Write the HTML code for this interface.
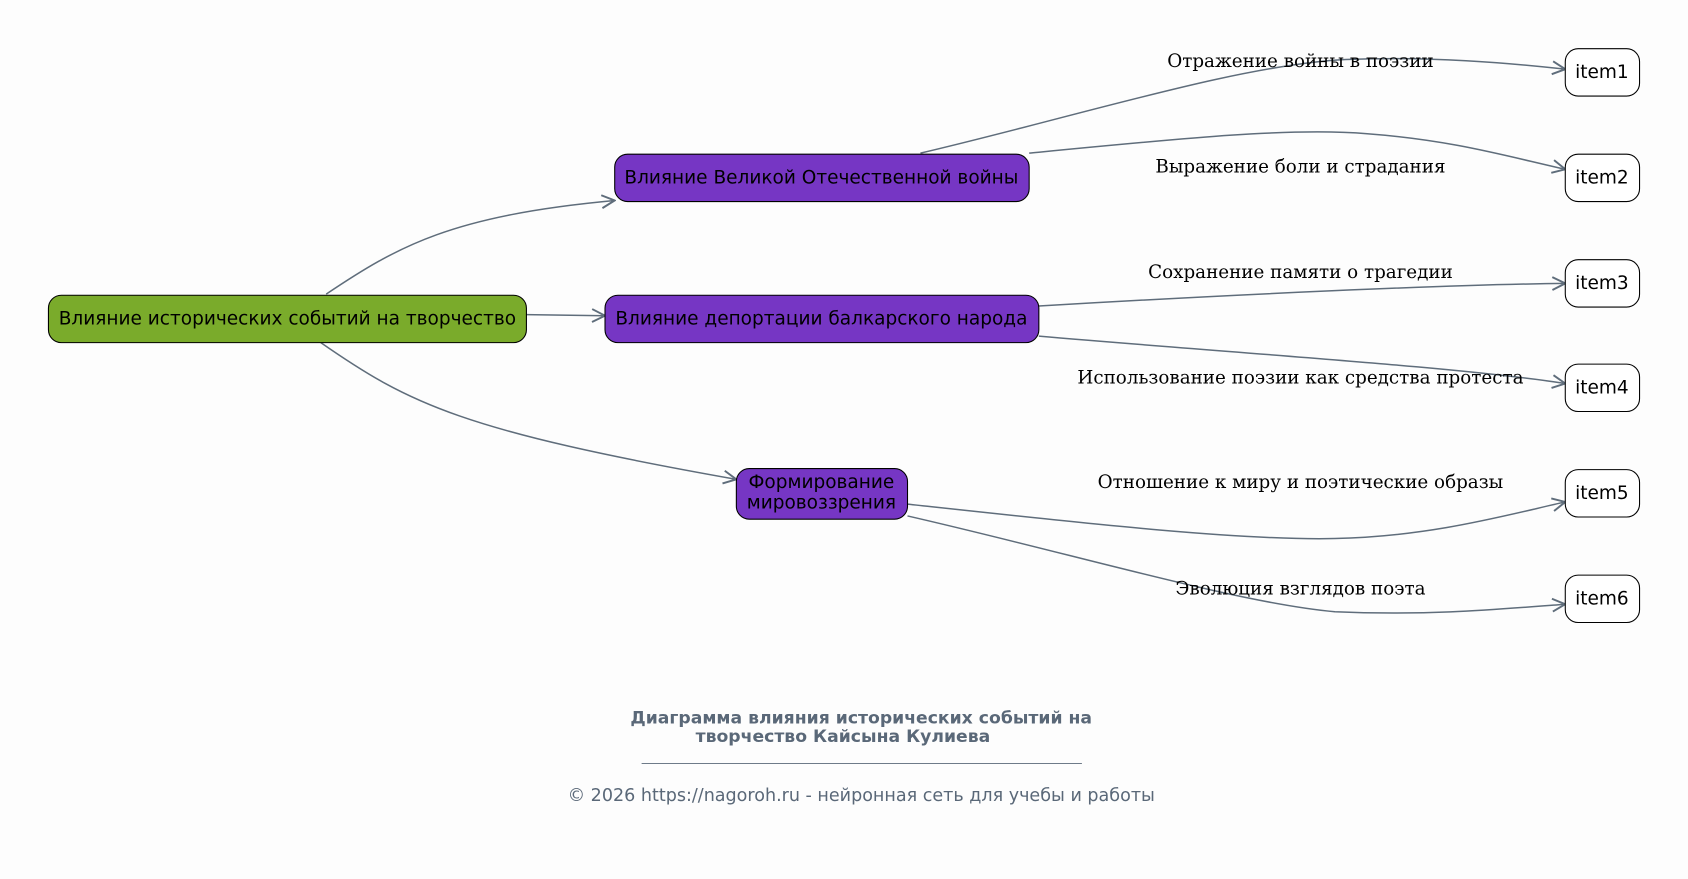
<!DOCTYPE html>
<html><head><meta charset="utf-8"><style>
html,body{margin:0;padding:0;background:#fdfdfd;}
svg{display:block}
.n{font-family:"DejaVu Sans","Liberation Sans",sans-serif;font-size:17.2px;fill:#000;text-anchor:middle;dominant-baseline:central}
.l{font-family:"DejaVu Serif","Liberation Serif",serif;font-size:17px;fill:#000;text-anchor:middle;dominant-baseline:central}
.e{fill:none;stroke:#5f6d7b;stroke-width:1.4;marker-end:url(#a)}
</style></head><body>
<svg width="1688" height="879" viewBox="0 0 1568 816" xmlns="http://www.w3.org/2000/svg">
<defs><marker id="a" viewBox="0 0 14 14" refX="13" refY="7" markerWidth="14" markerHeight="14" markerUnits="userSpaceOnUse" orient="auto"><path d="M1,1 L13,7 L1,13" fill="none" stroke="#5f6d7b" stroke-width="1.8"/></marker></defs>
<rect width="1568" height="816" fill="#fdfdfd"/>
<path class="e" d="M303,273 C370,228 420,200 571,186"/>
<path class="e" d="M489,292 L562,293"/>
<path class="e" d="M298,318 C380,375 430,400 684,445"/>
<path class="e" d="M855,142 C1000,108 1150,60 1250,55 C1330,52 1400,58 1454,64"/>
<path class="e" d="M956,142 C1100,128 1200,118 1270,124 C1350,130 1400,145 1454,157"/>
<path class="e" d="M965,284 C1150,273 1350,264 1454,263"/>
<path class="e" d="M965,312 C1150,328 1350,340 1454,356"/>
<path class="e" d="M843,468 C1000,485 1150,502 1240,500 C1330,498 1400,478 1454,466"/>
<path class="e" d="M843,479 C1000,515 1150,560 1240,568 C1330,572 1400,565 1454,561"/>
<rect x="45" y="274" width="444" height="44" rx="12" fill="#7aab2b" stroke="#000"/>
<text class="n" x="267" y="296">Влияние исторических событий на творчество</text>
<rect x="571" y="143" width="385" height="44" rx="12" fill="#7636c4" stroke="#000"/>
<text class="n" x="763" y="165">Влияние Великой Отечественной войны</text>
<rect x="562" y="274" width="403" height="44" rx="12" fill="#7636c4" stroke="#000"/>
<text class="n" x="763" y="296">Влияние депортации балкарского народа</text>
<rect x="684" y="435" width="159" height="47" rx="12" fill="#7636c4" stroke="#000"/>
<text class="n" x="763" y="448">Формирование</text>
<text class="n" x="763" y="467">мировоззрения</text>
<g fill="#fff" stroke="#000">
<rect x="1454" y="45" width="69" height="44" rx="12"/>
<rect x="1454" y="143" width="69" height="44" rx="12"/>
<rect x="1454" y="241" width="69" height="44" rx="12"/>
<rect x="1454" y="338" width="69" height="44" rx="12"/>
<rect x="1454" y="436" width="69" height="44" rx="12"/>
<rect x="1454" y="534" width="69" height="44" rx="12"/>
</g>
<text class="n" x="1488" y="67">item1</text>
<text class="n" x="1488" y="165">item2</text>
<text class="n" x="1488" y="263">item3</text>
<text class="n" x="1488" y="360">item4</text>
<text class="n" x="1488" y="458">item5</text>
<text class="n" x="1488" y="556">item6</text>
<text class="l" x="1208" y="57">Отражение войны в поэзии</text>
<text class="l" x="1208" y="155">Выражение боли и страдания</text>
<text class="l" x="1208" y="253">Сохранение памяти о трагедии</text>
<text class="l" x="1208" y="351">Использование поэзии как средства протеста</text>
<text class="l" x="1208" y="448">Отношение к миру и поэтические образы</text>
<text class="l" x="1208" y="547">Эволюция взглядов поэта</text>
<g font-family="DejaVu Sans,Liberation Sans,sans-serif" fill="#5a6878" text-anchor="middle">
<text x="800" y="672" font-size="16" font-weight="bold">Диаграмма влияния исторических событий на</text>
<text x="783" y="689" font-size="16" font-weight="bold">творчество Кайсына Кулиева</text>
<line x1="596" y1="709" x2="1005" y2="709" stroke="#5a6878" stroke-width="0.8"/>
<text x="800" y="744" font-size="16.3">© 2026 https://nagoroh.ru - нейронная сеть для учебы и работы</text>
</g>
</svg>
</body></html>
